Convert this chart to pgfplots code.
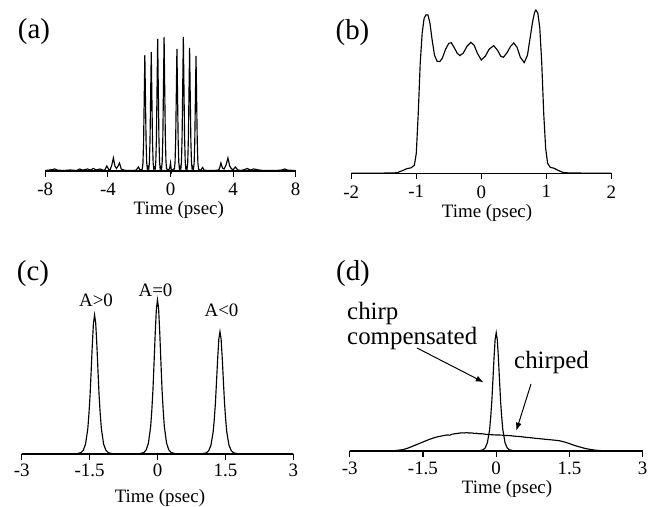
\documentclass[border=0pt]{standalone}
\usepackage{pgfplots}
\pgfplotsset{compat=1.18}
\usepackage{fontspec}
\setmainfont{Liberation Serif}
\usetikzlibrary{arrows.meta}

\pgfplotsset{
  panel/.style={
    scale only axis, anchor=south west,
    axis x line*=bottom, axis y line=none,
    ymin=0, enlargelimits=false, clip=false,
    ytick=\empty,
    tick align=outside, major tick length=6bp,
    xtick style={black, line width=1.1bp},
    x axis line style={black, line width=1.2bp},
    xticklabel style={font=\fontsize{19}{22}\selectfont, inner sep=1bp},
  },
  curve/.style={black, line width=1.15bp, mark=none},
}
\newcommand\lbl{\fontsize{19}{22}\selectfont}

\begin{document}
\begin{tikzpicture}[x=1bp,y=1bp]
\useasboundingbox (0,0) rectangle (654,507);

% ---------------- (a) pulse train ----------------
\begin{axis}[panel, at={(45.3bp,336bp)}, width=250.4bp, height=140bp,
  xmin=-8, xmax=8, ymax=140,
  xtick={-8,-4,0,4,8}, xticklabels={-8,-4,0,4,8},
  xticklabel style={yshift=-5bp}]
\addplot[curve] coordinates {
(-8.0,0.5) (-7.7,1.0) (-7.4,2.0) (-7.2,0.8) (-6.8,0.5) (-6.4,1.0) (-6.0,0.5)
(-5.8,2.0) (-5.6,0.8) (-5.3,2.0) (-5.1,1.0) (-4.93,2.5) (-4.75,1.0) (-4.5,2.0)
(-4.3,0.8) (-4.2,1.0) (-4.07,5) (-3.95,1.5) (-3.85,1.5) (-3.75,6) (-3.65,13)
(-3.55,5) (-3.45,2.5) (-3.35,5) (-3.26,8) (-3.15,2) (-3.0,1) (-2.8,0.5)
(-2.4,0.5) (-2.2,0.8) (-2.05,4) (-1.95,1) (-1.86,1.5)
(-1.80,2) (-1.76,8.1) (-1.72,29) (-1.68,72) (-1.64,116) (-1.60,72) (-1.56,29) (-1.52,8.1) (-1.48,2) (-1.435,4)
(-1.39,2) (-1.35,8.3) (-1.31,29.8) (-1.27,73.8) (-1.23,119) (-1.19,73.8) (-1.15,29.8) (-1.11,8.3) (-1.07,2) (-1.025,3.5)
(-0.98,2) (-0.94,9.2) (-0.90,33) (-0.86,81.8) (-0.82,132) (-0.78,81.8) (-0.74,33) (-0.70,9.2) (-0.66,2) (-0.615,4)
(-0.57,2) (-0.53,9.4) (-0.49,33.5) (-0.45,83) (-0.41,134) (-0.37,83) (-0.33,33.5) (-0.29,9.4) (-0.25,2)
(-0.15,1.5) (-0.06,2) (-0.03,5) (0.0,8) (0.03,4) (0.07,-1) (0.12,1) (0.21,2)
(0.25,2) (0.29,8.5) (0.33,30.5) (0.37,75.6) (0.41,122) (0.45,75.6) (0.49,30.5) (0.53,8.5) (0.57,2) (0.615,4)
(0.66,2) (0.70,9.4) (0.74,33.5) (0.78,83) (0.82,134) (0.86,83) (0.90,33.5) (0.94,9.4) (0.98,2) (1.02,3.5)
(1.06,2) (1.10,8.6) (1.14,30.8) (1.18,76.3) (1.22,123) (1.26,76.3) (1.30,30.8) (1.34,8.6) (1.38,2) (1.425,4)
(1.47,2) (1.51,8) (1.55,28.8) (1.59,71.3) (1.63,115) (1.67,71.3) (1.71,28.8) (1.75,8) (1.79,2)
(1.85,1) (1.95,1) (2.05,3.5) (2.15,0.8) (2.4,0.5) (2.8,0.5) (3.05,1) (3.12,2) (3.22,8)
(3.32,3) (3.42,2) (3.55,6) (3.67,13) (3.78,5) (3.9,2) (4.02,1.5) (4.14,4) (4.3,1)
(4.5,0.5) (4.75,1.5) (4.9,2.5) (5.1,1) (5.3,2) (5.5,1.5) (5.7,0.8) (6.0,0.5)
(6.4,0.5) (6.8,0.5) (7.1,1) (7.3,2) (7.5,0.8) (8.0,0.5)
};
\node[anchor=base, inner sep=1bp, font=\lbl] at (rel axis cs:0.533,0) [yshift=-43.5bp] {Time (psec)};
\end{axis}

% ---------------- (b) flat-top pulse ----------------
\begin{axis}[panel, at={(351.3bp,333.7bp)}, width=260bp, height=170bp,
  xmin=-2, xmax=2, ymax=170,
  xtick={-2,-1,0,1,2}, xticklabels={-2,-1,0,1,2},
  xticklabel style={yshift=-5bp}]
\addplot[curve] coordinates {
(-2.0,0) (-1.5,0.2) (-1.3,0.5) (-1.22,2.5) (-1.15,4.5) (-1.08,5.5) (-1.03,8)
(-1.0,20) (-0.97,60) (-0.94,110) (-0.91,140) (-0.88,155) (-0.85,158.5) (-0.82,158.3)
(-0.79,150) (-0.76,135) (-0.72,118) (-0.68,112) (-0.64,111.7) (-0.6,115) (-0.55,124)
(-0.5,130) (-0.46,130.5) (-0.42,126) (-0.37,120) (-0.33,117.7) (-0.28,120) (-0.22,127)
(-0.16,131) (-0.11,128) (-0.06,120) (0.0,113.3) (0.06,117) (0.12,124) (0.19,127.7)
(0.25,123) (0.3,117) (0.34,116) (0.4,121) (0.45,127) (0.5,130.3) (0.55,126)
(0.6,116) (0.66,110.7) (0.71,118) (0.75,135) (0.79,152) (0.82,161) (0.84,163.3)
(0.87,160) (0.9,145) (0.93,110) (0.96,60) (0.99,25) (1.02,10) (1.06,6)
(1.12,5) (1.18,3) (1.25,1) (1.35,0.3) (2.0,0)
};
\node[anchor=base, inner sep=1bp, font=\lbl] at (rel axis cs:0.522,0) [yshift=-44bp] {Time (psec)};
\end{axis}

% ---------------- (c) three sech^2 pulses ----------------
\begin{axis}[panel, at={(21.7bp,53bp)}, width=271.6bp, height=160bp,
  xmin=-3, xmax=3, ymax=160,
  xtick={-3,-1.5,0,1.5,3}, xticklabels={-3,-1.5,0,1.5,3},
  xticklabel style={yshift=-3bp}]
\addplot[curve] coordinates {
(-3,0) (-1.79,0.2) (-1.69,1.4) (-1.64,3.7) (-1.59,9.8) (-1.54,25.2) (-1.515,39.9)
(-1.49,58.4) (-1.465,83.4) (-1.44,109.3) (-1.415,130.7) (-1.39,139) (-1.365,130.7)
(-1.34,109.3) (-1.315,83.4) (-1.29,58.4) (-1.265,39.9) (-1.24,25.2) (-1.19,9.8)
(-1.14,3.7) (-1.09,1.4) (-0.99,0.2) (-0.5,0)
};
\addplot[curve] coordinates {
(-0.8,0) (-0.4,0.2) (-0.3,1.5) (-0.25,4.1) (-0.2,10.9) (-0.15,27.9) (-0.125,44.2)
(-0.1,64.7) (-0.075,92.4) (-0.05,121) (-0.025,144.8) (0,154) (0.025,144.8)
(0.05,121) (0.075,92.4) (0.1,64.7) (0.125,44.2) (0.15,27.9) (0.2,10.9)
(0.25,4.1) (0.3,1.5) (0.4,0.2) (0.8,0)
};
\addplot[curve] coordinates {
(0.5,0) (0.98,0.2) (1.08,1.2) (1.13,3.3) (1.18,8.6) (1.23,22.1) (1.255,35.1)
(1.28,51.4) (1.305,73.4) (1.33,96.1) (1.355,115) (1.38,122.3) (1.405,115)
(1.43,96.1) (1.455,73.4) (1.48,51.4) (1.505,35.1) (1.53,22.1) (1.58,8.6)
(1.63,3.3) (1.68,1.2) (1.78,0.2) (3,0)
};
\node[anchor=base, inner sep=1bp, font=\lbl] at (rel axis cs:0.509,0) [yshift=-48.3bp] {Time (psec)};
\end{axis}

% ---------------- (d) chirped vs compensated ----------------
\begin{axis}[panel, at={(349.7bp,56bp)}, width=293bp, height=125bp,
  xmin=-3, xmax=3, ymax=125,
  xtick={-3,-1.5,0,1.5,3}, xticklabels={-3,-1.5,0,1.5,3},
  xticklabel style={yshift=-4bp}]
% chirped pulse
\addplot[curve] coordinates {
(-3.0,0) (-2.3,0.1) (-2.1,0.3) (-2.0,0.8) (-1.9,1.5) (-1.8,3) (-1.7,5) (-1.6,7)
(-1.5,9) (-1.4,11) (-1.3,12.8) (-1.2,14.2) (-1.1,15.2) (-1.0,16.1) (-0.95,15.8)
(-0.9,16.8) (-0.85,17.2) (-0.8,17.5) (-0.75,17.9) (-0.7,18.2) (-0.65,18.0)
(-0.6,18.4) (-0.55,17.9) (-0.5,18.1) (-0.45,17.6) (-0.4,17.7) (-0.35,17.2)
(-0.3,17.3) (-0.2,16.6) (-0.1,16.3) (0.0,16) (0.1,15.9) (0.2,15.5) (0.3,15.3)
(0.4,14.7) (0.5,14.4) (0.6,13.7) (0.7,13.3) (0.8,12.7) (0.9,12.3) (1.0,11.7)
(1.1,11.3) (1.2,10.8) (1.3,10.2) (1.4,9) (1.5,7.4) (1.6,5.6) (1.7,4.2) (1.8,2.8)
(1.9,1.8) (2.0,1.0) (2.1,0.5) (2.3,0.1) (3.0,0)
};
% compensated pulse
\addplot[curve] coordinates {
(-0.6,0) (-0.36,0.15) (-0.27,1.2) (-0.225,3.1) (-0.18,8.4) (-0.135,21.4)
(-0.1125,34) (-0.09,49.7) (-0.0675,71) (-0.045,93) (-0.0225,111.2) (0,118.3)
(0.0225,111.2) (0.045,93) (0.0675,71) (0.09,49.7) (0.1125,34) (0.135,21.4)
(0.18,8.4) (0.225,3.1) (0.27,1.2) (0.36,0.15) (0.6,0)
};
\node[anchor=base, inner sep=1bp, font=\lbl] at (rel axis cs:0.537,0) [yshift=-42.3bp] {Time (psec)};
\end{axis}

% panel letters
\node[font=\fontsize{29}{32}\selectfont] at (34,475.5) {(a)};
\node[font=\fontsize{29}{32}\selectfont] at (352.5,474.5) {(b)};
\node[font=\fontsize{29}{32}\selectfont] at (33,233.5) {(c)};
\node[font=\fontsize{29}{32}\selectfont] at (353,233) {(d)};

% labels in (c)
\node[anchor=base, font=\lbl] at (96,200) {A>0};
\node[anchor=base, font=\lbl] at (155.5,210) {A=0};
\node[anchor=base, font=\lbl] at (221.5,190) {A<0};

% labels and arrows in (d)
\node[anchor=base west, inner sep=0, font=\fontsize{25}{28}\selectfont] at (347,187.3) {chirp};
\node[anchor=base west, inner sep=0, font=\fontsize{25}{28}\selectfont] at (347,162) {compensated};
\node[anchor=base west, inner sep=0, font=\fontsize{25}{28}\selectfont] at (514,138) {chirped};
\draw[line width=1bp, -{Latex[length=8bp,width=6bp]}] (417,159) -- (483.7,124.7);
\draw[line width=1bp, -{Latex[length=8bp,width=6bp]}] (531,123) -- (516.3,76.3);
\end{tikzpicture}
\end{document}
